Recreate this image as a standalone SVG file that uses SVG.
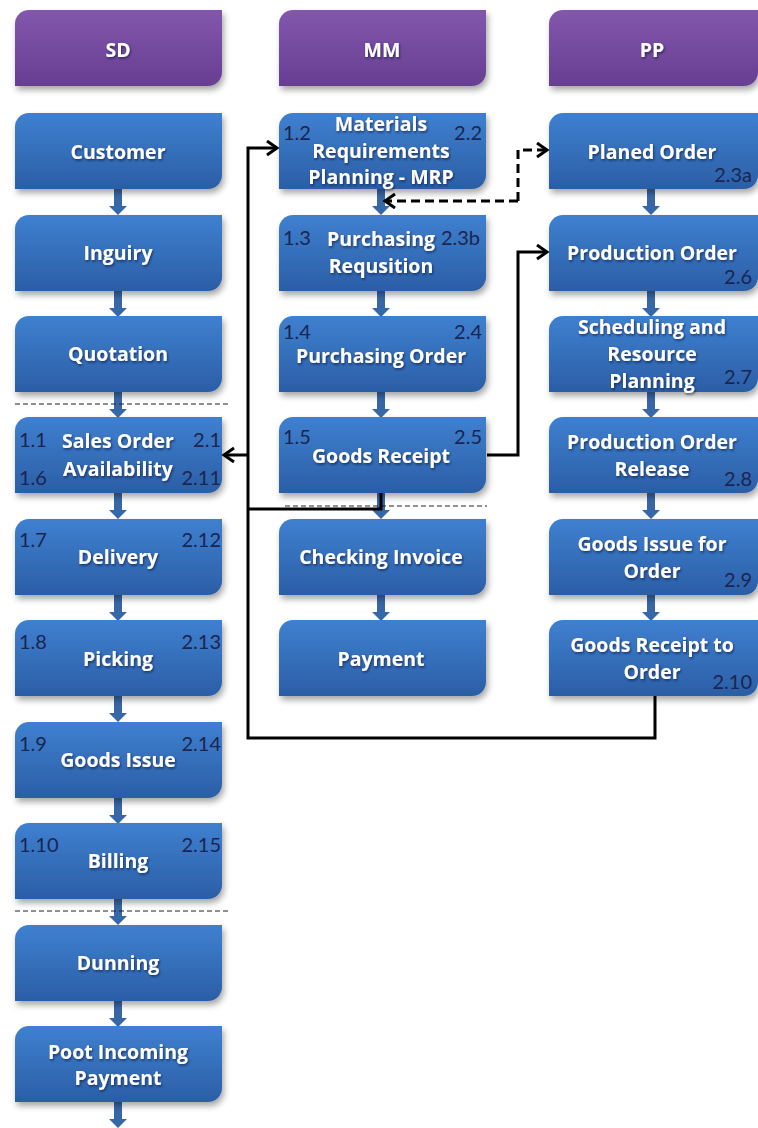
<svg xmlns="http://www.w3.org/2000/svg" width="758" height="1128" viewBox="0 0 758 1128">
  <defs>
    <linearGradient id="gBlue" x1="0" y1="0" x2="0" y2="1">
      <stop offset="0" stop-color="#3f80d0"/>
      <stop offset="1" stop-color="#2b5ea6"/>
    </linearGradient>
    <linearGradient id="gPurple" x1="0" y1="0" x2="0" y2="1">
      <stop offset="0" stop-color="#8257ad"/>
      <stop offset="1" stop-color="#673e91"/>
    </linearGradient>
    <filter id="shadow" x="-10%" y="-10%" width="120%" height="135%">
      <feDropShadow dx="2" dy="4" stdDeviation="3" flood-color="#000" flood-opacity="0.35"/>
    </filter>
    <filter id="tshadow" x="-10%" y="-20%" width="120%" height="150%">
      <feDropShadow dx="1" dy="1.5" stdDeviation="0.8" flood-color="#0a1a3a" flood-opacity="0.7"/>
    </filter>
    <marker id="open" markerUnits="userSpaceOnUse" markerWidth="16" markerHeight="18" refX="12" refY="8" orient="auto">
      <path d="M2,1 L12,8 L2,15" fill="none" stroke="#000" stroke-width="3"/>
    </marker>
    <!-- rounded-diagonal box shapes -->
    <path id="box" d="M14,0 H207 V62 A14,14 0 0 1 193,76 H0 V14 A14,14 0 0 1 14,0 Z"/>
    <path id="boxPP" d="M14,0 H209 V62 A14,14 0 0 1 195,76 H0 V14 A14,14 0 0 1 14,0 Z"/>
    <g id="flow">
      <rect x="-4" y="0" width="8" height="18" fill="#3867a8"/>
      <path d="M-9,17 H9 L0,26 Z" fill="#3867a8"/>
    </g>
  </defs>
  <style>
    .blue { fill: url(#gBlue); filter: url(#shadow); }
    .head { fill: url(#gPurple); filter: url(#shadow); }
    .lbl { font-family: "Open Sans", Lato, "Liberation Sans", sans-serif; font-weight: bold; font-size: 19.5px; fill: #ffffff; text-anchor: middle; filter: url(#tshadow); }
    .num { font-family: Lato, "Liberation Sans", Arial, sans-serif; font-size: 20px; fill: #1a2550; }
    .numR { font-family: Lato, "Liberation Sans", Arial, sans-serif; font-size: 20px; fill: #1a2550; text-anchor: end; }
    .sep { stroke: #222; stroke-width: 1.2; stroke-dasharray: 5 3; fill: none; }
    .con { stroke: #000; stroke-width: 3; fill: none; }
    .dash { stroke: #000; stroke-width: 3; fill: none; stroke-dasharray: 9 5; }
  </style>

  <!-- block arrows between steps -->
  <g id="flow-arrows">
    <use href="#flow" x="118" y="189"/>
    <use href="#flow" x="118" y="291"/>
    <use href="#flow" x="118" y="392"/>
    <use href="#flow" x="118" y="493"/>
    <use href="#flow" x="118" y="595"/>
    <use href="#flow" x="118" y="696"/>
    <use href="#flow" x="118" y="798"/>
    <use href="#flow" x="118" y="899"/>
    <use href="#flow" x="118" y="1001"/>
    <use href="#flow" x="118" y="1102"/>
    <use href="#flow" x="381" y="189"/>
    <use href="#flow" x="381" y="291"/>
    <use href="#flow" x="381" y="392"/>
    <use href="#flow" x="381" y="493"/>
    <use href="#flow" x="381" y="595"/>
    <use href="#flow" x="651" y="189"/>
    <use href="#flow" x="651" y="291"/>
    <use href="#flow" x="651" y="392"/>
    <use href="#flow" x="651" y="493"/>
    <use href="#flow" x="651" y="595"/>
  </g>

  <!-- headers -->
  <g id="hdr-sd"><use href="#box" class="head" x="15" y="10"/><text class="lbl" x="118" y="57">SD</text></g>
  <g id="hdr-mm"><use href="#box" class="head" x="279" y="10"/><text class="lbl" x="382" y="57">MM</text></g>
  <g id="hdr-pp"><use href="#boxPP" class="head" x="549" y="10"/><text class="lbl" x="652" y="57">PP</text></g>

  <!-- SD column -->
  <g id="sd-customer"><use href="#box" class="blue" x="15" y="113"/><text class="lbl" x="118" y="159">Customer</text></g>
  <g id="sd-inquiry"><use href="#box" class="blue" x="15" y="215"/><text class="lbl" x="118" y="260">Inguiry</text></g>
  <g id="sd-quotation"><use href="#box" class="blue" x="15" y="316"/><text class="lbl" x="118" y="361">Quotation</text></g>
  <g id="sd-salesorder"><use href="#box" class="blue" x="15" y="417"/>
    <text class="lbl" x="118" y="448">Sales Order</text><text class="lbl" x="118" y="476">Availability</text>
    <text class="num" x="19" y="447">1.1</text><text class="numR" x="221" y="447">2.1</text>
    <text class="num" x="19" y="485">1.6</text><text class="numR" x="221" y="485">2.11</text></g>
  <g id="sd-delivery"><use href="#box" class="blue" x="15" y="519"/><text class="lbl" x="118" y="564">Delivery</text>
    <text class="num" x="19" y="547">1.7</text><text class="numR" x="221" y="547">2.12</text></g>
  <g id="sd-picking"><use href="#box" class="blue" x="15" y="620"/><text class="lbl" x="118" y="666">Picking</text>
    <text class="num" x="19" y="649">1.8</text><text class="numR" x="221" y="649">2.13</text></g>
  <g id="sd-goodsissue"><use href="#box" class="blue" x="15" y="722"/><text class="lbl" x="118" y="767">Goods Issue</text>
    <text class="num" x="19" y="751">1.9</text><text class="numR" x="221" y="751">2.14</text></g>
  <g id="sd-billing"><use href="#box" class="blue" x="15" y="823"/><text class="lbl" x="118" y="868">Billing</text>
    <text class="num" x="19" y="852">1.10</text><text class="numR" x="221" y="852">2.15</text></g>
  <g id="sd-dunning"><use href="#box" class="blue" x="15" y="925"/><text class="lbl" x="118" y="970">Dunning</text></g>
  <g id="sd-payment"><use href="#box" class="blue" x="15" y="1026"/>
    <text class="lbl" x="118" y="1059">Poot Incoming</text><text class="lbl" x="118" y="1085">Payment</text></g>

  <!-- MM column -->
  <g id="mm-mrp"><use href="#box" class="blue" x="279" y="113"/>
    <text class="lbl" x="381" y="131">Materials</text><text class="lbl" x="381" y="158">Requirements</text><text class="lbl" x="381" y="184">Planning - MRP</text>
    <text class="num" x="283" y="140">1.2</text><text class="numR" x="482" y="140">2.2</text></g>
  <g id="mm-preq"><use href="#box" class="blue" x="279" y="215"/>
    <text class="lbl" x="381" y="246">Purchasing</text><text class="lbl" x="381" y="273">Requsition</text>
    <text class="num" x="283" y="245">1.3</text><text class="numR" x="480" y="245">2.3b</text></g>
  <g id="mm-porder"><use href="#box" class="blue" x="279" y="316"/>
    <text class="lbl" x="381" y="363">Purchasing Order</text>
    <text class="num" x="283" y="339">1.4</text><text class="numR" x="482" y="339">2.4</text></g>
  <g id="mm-gr"><use href="#box" class="blue" x="279" y="417"/>
    <text class="lbl" x="381" y="463">Goods Receipt</text>
    <text class="num" x="283" y="444">1.5</text><text class="numR" x="482" y="444">2.5</text></g>
  <g id="mm-invoice"><use href="#box" class="blue" x="279" y="519"/><text class="lbl" x="381" y="564">Checking Invoice</text></g>
  <g id="mm-pay"><use href="#box" class="blue" x="279" y="620"/><text class="lbl" x="381" y="666">Payment</text></g>

  <!-- PP column -->
  <g id="pp-planned"><use href="#boxPP" class="blue" x="549" y="113"/>
    <text class="lbl" x="652" y="159">Planed Order</text><text class="numR" x="752" y="182">2.3a</text></g>
  <g id="pp-prodorder"><use href="#boxPP" class="blue" x="549" y="215"/>
    <text class="lbl" x="652" y="260">Production Order</text><text class="numR" x="752" y="284">2.6</text></g>
  <g id="pp-sched"><use href="#boxPP" class="blue" x="549" y="316"/>
    <text class="lbl" x="652" y="334">Scheduling and</text><text class="lbl" x="652" y="361">Resource</text><text class="lbl" x="652" y="388">Planning</text>
    <text class="numR" x="752" y="384">2.7</text></g>
  <g id="pp-release"><use href="#boxPP" class="blue" x="549" y="417"/>
    <text class="lbl" x="652" y="449">Production Order</text><text class="lbl" x="652" y="476">Release</text>
    <text class="numR" x="752" y="486">2.8</text></g>
  <g id="pp-gi"><use href="#boxPP" class="blue" x="549" y="519"/>
    <text class="lbl" x="652" y="551">Goods Issue for</text><text class="lbl" x="652" y="578">Order</text>
    <text class="numR" x="752" y="587">2.9</text></g>
  <g id="pp-gr"><use href="#boxPP" class="blue" x="549" y="620"/>
    <text class="lbl" x="652" y="652">Goods Receipt to</text><text class="lbl" x="652" y="679">Order</text>
    <text class="numR" x="752" y="689">2.10</text></g>

  <!-- phase separators -->
  <g id="separators">
    <line class="sep" x1="15" y1="404" x2="228" y2="404"/>
    <line class="sep" x1="285" y1="506" x2="487" y2="506"/>
    <line class="sep" x1="15" y1="911" x2="228" y2="911"/>
  </g>

  <!-- cross-module connectors -->
  <g id="connectors">
    <path class="con" d="M655,696 V738 H248 V148 H277" marker-end="url(#open)"/>
    <path class="con" d="M248,455 H224" marker-end="url(#open)"/>
    <path class="con" d="M381,493 V509 H248"/>
    <path class="con" d="M487,455 H518 V252 H547" marker-end="url(#open)"/>
    <path class="dash" d="M518,201 V150 H547" marker-end="url(#open)"/>
    <path class="dash" d="M518,201 H385" marker-end="url(#open)"/>
  </g>
</svg>
